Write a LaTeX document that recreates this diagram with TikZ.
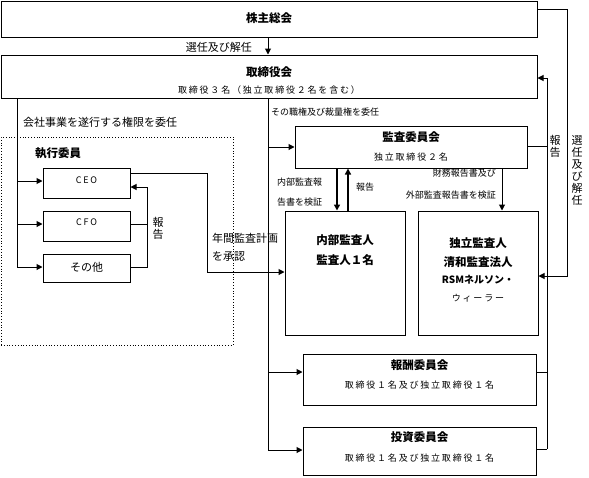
\documentclass[tikz,border=0pt]{standalone}
\usepackage{fontspec}
\setmainfont{Noto Sans CJK JP}
\newfontfamily\jpsp{Noto Sans CJK JP}[LetterSpace=20]
\usetikzlibrary{arrows.meta}
\tikzset{
  box/.style={draw, line width=1pt, inner sep=0pt},
  dotbox/.style={draw, line width=0.8pt, dotted, inner sep=0pt},
  conn/.style={line width=1pt},
  arr/.style={line width=1pt, -{Triangle[length=6pt,width=6pt]}},
  thickarr/.style={line width=1.6pt, -{Triangle[length=6pt,width=6pt]}},
  title/.style={font=\fontsize{11.5}{12}\selectfont\bfseries, inner sep=0pt},
  sub/.style={font=\jpsp\fontsize{9}{10}\selectfont, inner sep=0pt},
  lab/.style={font=\fontsize{11}{12}\selectfont, inner sep=0pt},
  small/.style={font=\fontsize{9}{10}\selectfont, inner sep=0pt},
  vlab/.style={font=\fontsize{11}{12}\selectfont, inner sep=0pt, align=center},
}
\begin{document}
\begin{tikzpicture}[x=1pt,y=-1pt]
\useasboundingbox (0,0) rectangle (589,477);
% boxes
\node[box, minimum width=536pt, minimum height=36pt] (sh) at (269,19) {};
\node[box, minimum width=536pt, minimum height=43pt] (bd) at (269,76.5) {};
\node[dotbox, minimum width=232pt, minimum height=208pt] (ex) at (117,241) {};
\node[box, minimum width=87pt, minimum height=30pt] (ceo) at (86.5,183) {};
\node[box, minimum width=87pt, minimum height=30pt] (cfo) at (86.5,226) {};
\node[box, minimum width=87pt, minimum height=28pt] (oth) at (86.5,268) {};
\node[box, minimum width=232pt, minimum height=42pt] (ac) at (411,147) {};
\node[box, minimum width=120pt, minimum height=124pt] (ia) at (345,273) {};
\node[box, minimum width=120pt, minimum height=124pt] (ea) at (478,273) {};
\node[box, minimum width=233pt, minimum height=51pt] (rc) at (419.5,379.5) {};
\node[box, minimum width=233pt, minimum height=48pt] (ic) at (419.5,451) {};

% texts
\node[title] (tsh) at (269,18) {株主総会};
\node[lab, anchor=east] (tsel) at (252,47) {選任及び解任};
\node[title] (tbd) at (269,72) {取締役会};
\node[sub] (tbds) at (269,90) {取締役３名（独立取締役２名を含む）};
\node[lab, anchor=west] (tdel) at (23,122) {会社事業を遂行する権限を委任};
\node[small, anchor=west] (tdel2) at (271,112) {その職権及び裁量権を委任};
\node[title, anchor=west] (tex) at (35,153) {執行委員};
\node[sub] (tceo) at (86.5,180) {CEO};
\node[sub] (tcfo) at (86.5,222) {CFO};
\node[lab] (toth) at (86.5,267) {その他};
\node[vlab] (trep1) at (158,228) {報\\告};
\node[lab, anchor=west] (tplan1) at (212,238) {年間監査計画};
\node[lab, anchor=west] (tplan2) at (212,257) {を承認};
\node[title] (tac) at (411,137) {監査委員会};
\node[sub] (tacs) at (411,157) {独立取締役２名};
\node[small, anchor=west] (tia1) at (277,182) {内部監査報};
\node[small, anchor=west] (tia2) at (277,202) {告書を検証};
\node[small, anchor=west] (trep2) at (356,187) {報告};
\node[small, anchor=east] (tea1) at (496,173) {財務報告書及び};
\node[small, anchor=east] (tea2) at (496,195) {外部監査報告書を検証};
\node[title] (tia) at (345,240) {内部監査人};
\node[title] (tia3) at (345,260) {監査人１名};
\node[title] (tea) at (478,243) {独立監査人};
\node[title] (tea3) at (478,262) {清和監査法人};
\node[font=\fontsize{10}{11}\selectfont\bfseries, inner sep=0pt] (tea4) at (478,280) {RSMネルソン・};
\node[sub] (tea5) at (478,298) {ウィーラー};
\node[title] (trc) at (419.5,365) {報酬委員会};
\node[sub] (trcs) at (419.5,385) {取締役１名及び独立取締役１名};
\node[title] (tic) at (419.5,437) {投資委員会};
\node[sub] (tics) at (419.5,458) {取締役１名及び独立取締役１名};
\node[vlab] (trep3) at (555,146) {報\\告};
\node[vlab] (tsel2) at (577,170) {選\\任\\及\\び\\解\\任};

% connectors
\coordinate (L0) at (17,98);
\coordinate (M0) at (268,98);
\draw[arr] (sh.south -| M0) -- (bd.north -| M0);
\draw[conn] (L0) -- (17,267);
\draw[arr] (17,181) -- (ceo.west |- 0,181);
\draw[arr] (17,224) -- (cfo.west |- 0,224);
\draw[arr] (17,267) -- (oth.west |- 0,267);
\draw[arr] (oth.east |- 0,267) -- (147,267) -- (147,187) -- (ceo.east |- 0,187);
\draw[conn] (cfo.east |- 0,224) -- (147,224);
\draw[arr] (ceo.east |- 0,173) -- (207,173) -- (207,272) -- (ia.west |- 0,272);
\draw[conn] (M0) -- (268,450);
\draw[arr] (268,147) -- (ac.west |- 0,147);
\draw[arr] (268,372) -- (rc.west |- 0,372);
\draw[arr] (268,450) -- (ic.west |- 0,450);
\draw[thickarr] (ac.south -| 337,0) -- (ia.north -| 337,0);
\draw[thickarr] (ia.north -| 348,0) -- (ac.south -| 348,0);
\draw[arr] (ac.south -| 502,0) -- (ea.north -| 502,0);
\draw[arr] (sh.east |- 0,9) -- (567,9) -- (567,276) -- (ea.east |- 0,276);
\draw[arr] (ac.east |- 0,146) -- (547,146) -- (547,78) -- (bd.east |- 0,78);
\draw[conn] (547,146) -- (547,449);
\draw[conn] (rc.east |- 0,372) -- (547,372);
\draw[conn] (ic.east |- 0,449) -- (547,449);
\end{tikzpicture}
\end{document}
